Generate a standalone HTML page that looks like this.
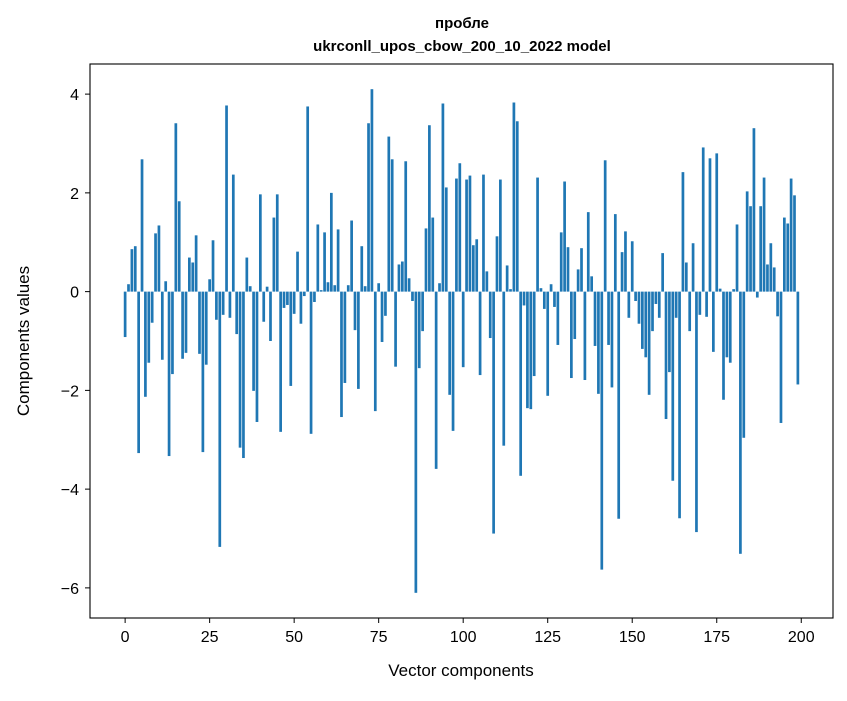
<!DOCTYPE html>
<html><head><meta charset="utf-8"><style>
html,body{margin:0;padding:0;background:#fff;}
svg text{font-family:"Liberation Sans","DejaVu Sans",sans-serif;}
</style></head><body>
<svg id="chart" width="847" height="696" xmlns="http://www.w3.org/2000/svg">
<rect width="847" height="696" fill="#fff"/>
<text x="462" y="28" text-anchor="middle" font-size="15" font-weight="bold">пробле</text>
<text x="462" y="51" text-anchor="middle" font-size="15" font-weight="bold">ukrconll_upos_cbow_200_10_2022 model</text>
<g id="bars"></g>
<g id="axes"></g>
<text x="461" y="676" text-anchor="middle" font-size="17">Vector components</text>
<text transform="translate(29,341) rotate(-90)" text-anchor="middle" font-size="17">Components values</text>
</svg>
<script>
const values = [-0.92,0.15,0.86,0.92,-3.27,2.68,-2.13,-1.44,-0.63,1.18,
1.34,-1.38,0.21,-3.33,-1.67,3.41,1.83,-1.36,-1.24,0.69,
0.59,1.14,-1.26,-3.25,-1.48,0.25,1.04,-0.57,-5.17,-0.47,
3.77,-0.53,2.37,-0.86,-3.16,-3.37,0.69,0.11,-2.01,-2.64,
1.97,-0.61,0.1,-1.0,1.5,1.97,-2.84,-0.33,-0.27,-1.91,
-0.45,0.81,-0.65,-0.09,3.75,-2.88,-0.21,1.36,0.03,1.2,
0.19,2.0,0.13,1.26,-2.54,-1.85,0.13,1.44,-0.78,-1.97,
0.92,0.11,3.41,4.1,-2.42,0.17,-1.02,-0.49,3.14,2.68,
-1.52,0.55,0.61,2.64,0.27,-0.19,-6.1,-1.55,-0.8,1.28,
3.37,1.5,-3.59,0.17,3.81,2.11,-2.09,-2.82,2.29,2.6,
-1.53,2.27,2.35,0.94,1.06,-1.69,2.37,0.41,-0.94,-4.9,
1.12,2.27,-3.12,0.53,0.05,3.83,3.45,-3.73,-0.28,-2.36,
-2.38,-1.71,2.31,0.07,-0.35,-2.11,0.15,-0.31,-1.08,1.2,
2.23,0.9,-1.75,-0.96,0.45,0.88,-1.79,1.61,0.31,-1.1,
-2.07,-5.63,2.66,-1.08,-1.94,1.57,-4.6,0.8,1.22,-0.53,
1.02,-0.19,-0.65,-1.16,-1.33,-2.09,-0.8,-0.25,-0.53,0.78,
-2.58,-1.63,-3.83,-0.53,-4.59,2.42,0.59,-0.8,0.98,-4.87,
-0.47,2.92,-0.51,2.7,-1.22,2.8,0.06,-2.19,-1.33,-1.44,
0.05,1.36,-5.31,-2.96,2.03,1.73,3.31,-0.12,1.73,2.31,
0.55,0.98,0.49,-0.5,-2.66,1.5,1.38,2.29,1.95,-1.88];
const xTicks = [0,25,50,75,100,125,150,175,200];
const yTicks = [-6,-4,-2,0,2,4];

const L=90,R=833,T=64,B=618;
const n=values.length;
const xmin=-0.4-(n-0.2)*0.05, xmax=n-1+0.4+(n-0.2)*0.05;
const vmin=Math.min(0,...values), vmax=Math.max(0,...values), vr=vmax-vmin;
const ymin=vmin-vr*0.05, ymax=vmax+vr*0.05;
const sx=v=>L+(v-xmin)/(xmax-xmin)*(R-L);
const sy=v=>T+(ymax-v)/(ymax-ymin)*(B-T);
const NS="http://www.w3.org/2000/svg";
const bars=document.getElementById('bars');
values.forEach((v,i)=>{
  const r=document.createElementNS(NS,'rect');
  
  
  const x0=sx(i-0.4),x1=sx(i+0.4);
  const y0=sy(Math.max(v,0)),y1=sy(Math.min(v,0));
  r.setAttribute('x',x0);r.setAttribute('width',x1-x0);
  r.setAttribute('y',y0);r.setAttribute('height',Math.max(y1-y0,0.01));
  r.setAttribute('fill','#1f77b4');
  bars.appendChild(r);
});
const ax=document.getElementById('axes');
const frame=document.createElementNS(NS,'rect');


frame.setAttribute('x',L);frame.setAttribute('y',T);frame.setAttribute('width',R-L);frame.setAttribute('height',B-T);
frame.setAttribute('fill','none');frame.setAttribute('stroke','#000');frame.setAttribute('stroke-width','1.1');
ax.appendChild(frame);
xTicks.forEach(t=>{
  const x=sx(t);
  const l=document.createElementNS(NS,'line');
  
  
  l.setAttribute('x1',x);l.setAttribute('x2',x);l.setAttribute('y1',B);l.setAttribute('y2',B+5);l.setAttribute('stroke','#000');
  ax.appendChild(l);
  const tx=document.createElementNS(NS,'text');
  
  
  tx.setAttribute('x',x);tx.setAttribute('y',B+24);tx.setAttribute('text-anchor','middle');tx.setAttribute('font-size','16');
  tx.textContent=t;ax.appendChild(tx);
});
yTicks.forEach(t=>{
  const y=sy(t);
  const l=document.createElementNS(NS,'line');
  
  
  l.setAttribute('x1',L-5);l.setAttribute('x2',L);l.setAttribute('y1',y);l.setAttribute('y2',y);l.setAttribute('stroke','#000');
  ax.appendChild(l);
  const tx=document.createElementNS(NS,'text');
  
  
  tx.setAttribute('x',L-11);tx.setAttribute('y',y+6);tx.setAttribute('text-anchor','end');tx.setAttribute('font-size','16');
  tx.textContent=t<0?'\u2212'+Math.abs(t):t;ax.appendChild(tx);
});
</script>
</body></html>
